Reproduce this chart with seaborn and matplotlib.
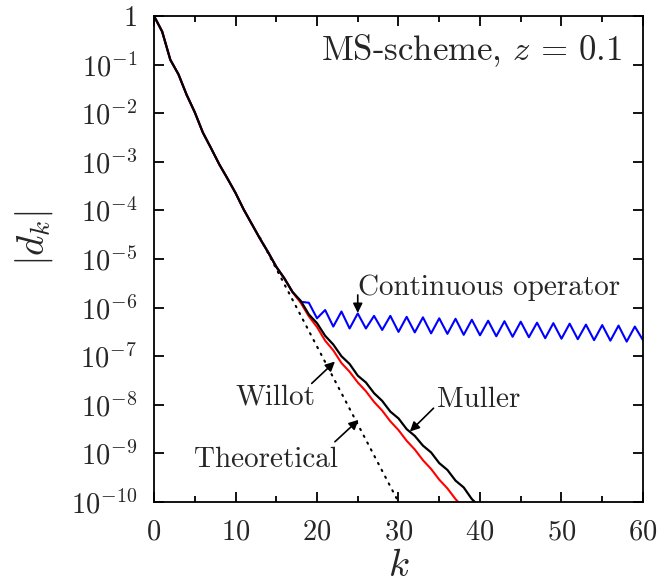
import numpy as np
import pandas as pd
import seaborn as sns
import matplotlib.pyplot as plt
from matplotlib.ticker import FixedLocator, FixedFormatter, MultipleLocator, NullLocator

# ---- data: log10|d_k| ----
k_muller = list(range(0, 41))
log_muller = [0.00, -0.32, -0.90, -1.20, -1.62, -1.98, -2.40, -2.72, -3.05, -3.34,
              -3.64, -3.98, -4.28, -4.58, -4.86, -5.16, -5.40, -5.68, -5.86, -6.14,
              -6.32, -6.58, -6.76, -7.00, -7.16, -7.40, -7.54, -7.76, -7.92, -8.14,
              -8.28, -8.50, -8.64, -8.84, -8.98, -9.20, -9.34, -9.56, -9.70, -9.94,
              -10.10]

# Willot follows Muller up to k=16
k_willot = list(range(0, 39))
log_willot = log_muller[:17] + [-5.68, -5.90, -6.18, -6.40, -6.68, -6.88, -7.14, -7.32,
                                -7.54, -7.72, -7.94, -8.12, -8.34, -8.52, -8.74, -8.92,
                                -9.14, -9.32, -9.54, -9.72, -9.94, -10.12]

# continuous operator follows Muller up to k=17
k_cont = list(range(0, 61))
log_cont = log_muller[:18] + [-5.88, -5.90, -6.22, -6.05, -6.39, -6.08, -6.43, -6.12,
                              -6.43, -6.17, -6.46, -6.17, -6.50, -6.19, -6.51, -6.20,
                              -6.53, -6.22, -6.54, -6.23, -6.56, -6.25, -6.57, -6.27,
                              -6.59, -6.28, -6.60, -6.29, -6.61, -6.31, -6.63, -6.32,
                              -6.64, -6.33, -6.65, -6.35, -6.67, -6.36, -6.68, -6.37,
                              -6.70, -6.39, -6.67]

k_theo = list(range(13, 31))
log_theo = [-4.56, -4.88, -5.20, -5.52, -5.84, -6.16, -6.48, -6.80,
            -7.12, -7.44, -7.76, -8.08, -8.40, -8.72, -9.04, -9.36, -9.68, -10.00]

ytick_vals = [1e0, 1e-1, 1e-2, 1e-3, 1e-4, 1e-5, 1e-6, 1e-7, 1e-8, 1e-9, 1e-10]
ytick_labels = ["1", r"$10^{-1}$", r"$10^{-2}$", r"$10^{-3}$", r"$10^{-4}$", r"$10^{-5}$",
                r"$10^{-6}$", r"$10^{-7}$", r"$10^{-8}$", r"$10^{-9}$", r"$10^{-10}$"]

df = pd.concat([
    pd.DataFrame({"k": k_cont, "d": np.power(10.0, log_cont), "s": "cont"}),
    pd.DataFrame({"k": k_willot, "d": np.power(10.0, log_willot), "s": "willot"}),
    pd.DataFrame({"k": k_muller, "d": np.power(10.0, log_muller), "s": "muller"}),
    pd.DataFrame({"k": k_theo, "d": np.power(10.0, log_theo), "s": "theo"}),
])

sns.set_theme(style="ticks")
plt.rcParams["font.family"] = ["cmr10", "DejaVu Serif"]
plt.rcParams["mathtext.fontset"] = "cm"
plt.rcParams["axes.unicode_minus"] = False
plt.rcParams["axes.formatter.use_mathtext"] = True
plt.rcParams["axes.axisbelow"] = False

fig = plt.figure(figsize=(6.59, 5.84), dpi=100)
ax = fig.add_axes([0.2337, 0.1404, 0.9757 - 0.2337, 0.9726 - 0.1404])

sns.lineplot(data=df[df.s == "theo"], x="k", y="d", ax=ax, color="black",
             linewidth=1.5, linestyle=(0, (0.7, 3.0)), dash_capstyle="round")
sns.lineplot(data=df[df.s == "cont"], x="k", y="d", ax=ax, color="#0000ff", linewidth=1.5)
sns.lineplot(data=df[df.s == "willot"], x="k", y="d", ax=ax, color="#ff0000", linewidth=1.5)
sns.lineplot(data=df[df.s == "muller"], x="k", y="d", ax=ax, color="black", linewidth=1.6)

ax.set_yscale("log")
ax.set_xlim(0, 60)
ax.set_ylim(1e-10, 1)
ax.xaxis.set_major_locator(MultipleLocator(10))
ax.xaxis.set_minor_locator(MultipleLocator(5))
ax.yaxis.set_major_locator(FixedLocator(ytick_vals))
ax.yaxis.set_major_formatter(FixedFormatter(ytick_labels))
ax.yaxis.set_minor_locator(NullLocator())
ax.tick_params(which="both", direction="in", bottom=True, left=True, top=True, right=True,
               labelsize=20.5, color="black")
ax.tick_params(which="major", length=7, width=1.3)
ax.tick_params(which="minor", length=4.5, width=1.3)
ax.tick_params(axis="x", pad=12)
ax.tick_params(axis="y", pad=12)
for sp in ax.spines.values():
    sp.set_visible(True)
    sp.set_color("black")
    sp.set_linewidth(1.3)

ax.set_xlabel(r"$k$", fontsize=28)
ax.set_ylabel(r"$|d_k|$", fontsize=28)
ax.xaxis.set_label_coords(0.5, -0.095)
ax.yaxis.set_label_coords(-0.2025, 0.543)

# annotations
arw = dict(arrowstyle="-|>", color="black", lw=1.2, mutation_scale=14, shrinkA=0, shrinkB=0)
ax.annotate("", xy=(25.0, 10**-6.11), xytext=(25.0, 10**-5.74), arrowprops=arw)
ax.annotate("", xy=(22.2, 10**-7.11), xytext=(19.35, 10**-7.56), arrowprops=arw)
ax.annotate("", xy=(31.4, 10**-8.55), xytext=(34.3, 10**-8.07), arrowprops=arw)
ax.annotate("", xy=(25.1, 10**-8.31), xytext=(22.2, 10**-8.76), arrowprops=arw)

fs = 21
ax.text(25.0, 10**-5.60, "Continuous operator", fontsize=fs, ha="left", va="center")
ax.text(14.9, 10**-7.84, "Willot", fontsize=fs, ha="center", va="center")
ax.text(34.7, 10**-7.90, "Muller", fontsize=fs, ha="left", va="center")
ax.text(13.7, 10**-9.14, "Theoretical", fontsize=fs, ha="center", va="center")
ax.text(57.4, 10**-0.72, r"MS-scheme, $z\,=\,0.1$", fontsize=25, ha="right", va="center")

fig.savefig("out.png", dpi=100)
